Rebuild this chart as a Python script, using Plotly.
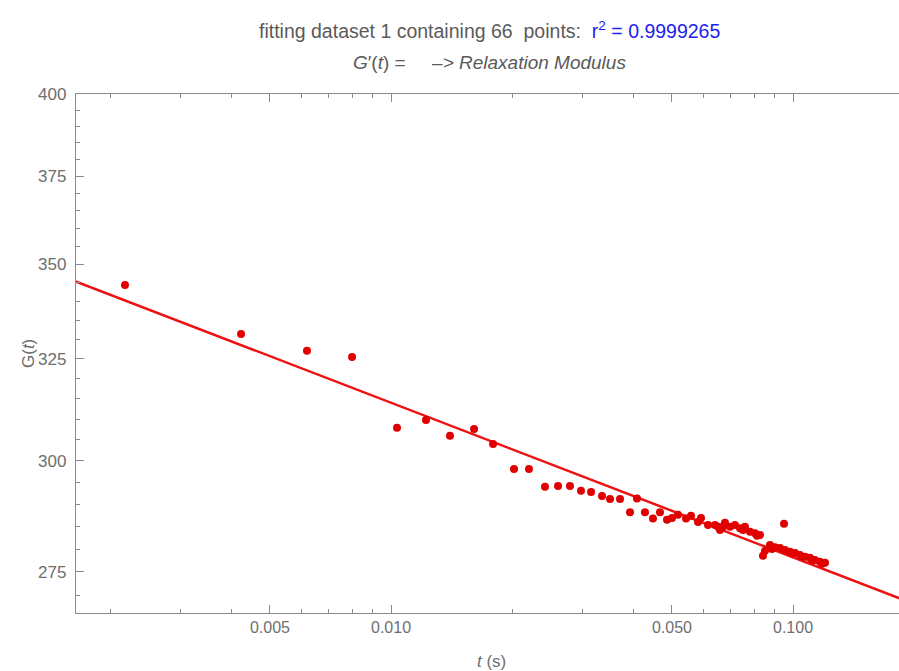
import plotly.graph_objects as go

# measured data (time in s, relaxation modulus)
t_data = [0.002179, 0.004236, 0.00618, 0.0080, 0.01035, 0.01222, 0.01402, 0.01609,
          0.01794, 0.02023, 0.02204, 0.02416, 0.02603, 0.02788, 0.02969, 0.03145,
          0.03349, 0.03506, 0.03713, 0.03931, 0.04092, 0.04283, 0.04484, 0.04668,
          0.04859, 0.0500, 0.05175, 0.05418, 0.05576, 0.05804, 0.05904, 0.06146,
          0.06397, 0.06508, 0.06583, 0.06697, 0.06773, 0.06970, 0.07172, 0.07381,
          0.07509, 0.07595, 0.07816, 0.08043, 0.08136, 0.08277, 0.08420, 0.08517,
          0.08764, 0.08866, 0.09020, 0.09283, 0.09498, 0.09553, 0.09829, 0.09943,
          0.1012, 0.1041, 0.1053, 0.1071, 0.1102, 0.1115, 0.1134, 0.1167, 0.1181, 0.1201]
G_data = [344.4, 331.4, 327.1, 325.5, 307.9, 309.8, 306.0, 307.6,
          304.0, 298.1, 298.1, 294.0, 294.2, 294.2, 293.1, 292.8,
          291.9, 291.2, 291.2, 288.2, 291.3, 288.2, 286.8, 288.2,
          286.5, 286.9, 287.6, 286.8, 287.4, 286.0, 286.9, 285.3,
          285.3, 284.9, 284.2, 284.9, 285.8, 284.9, 285.3, 284.6,
          284.2, 284.9, 283.8, 283.5, 282.9, 283.1, 278.5, 279.6,
          280.9, 280.0, 280.4, 280.2, 285.6, 279.8, 279.4, 279.0,
          279.1, 278.7, 278.3, 278.3, 278.1, 277.6, 277.6, 277.2, 276.8, 277.0]

# fitted power-law line (endpoints on log-log axes)
fit_t = [0.0015, 0.2]
fit_G = [347.0, 268.2]

x_major = [0.005, 0.01, 0.05, 0.1]
x_major_text = ["0.005", "0.010", "0.050", "0.100"]
x_minor = [0.002, 0.003, 0.004, 0.006, 0.007, 0.008, 0.009,
           0.02, 0.03, 0.04, 0.06, 0.07, 0.08, 0.09]
y_major = [275, 300, 325, 350, 375, 400]
y_minor = [270, 280, 285, 290, 295, 305, 310, 315, 320, 330, 335, 340, 345,
           355, 360, 365, 370, 380, 385, 390, 395]

FONT = "Liberation Sans Narrow, Liberation Sans, Arial, sans-serif"
AX = "#8a8a8a"
TXT = "#6e6e6e"

W, H = 899, 671
L, R, T, B = 76, 0, 94, 58
PW, PH = W - L - R, H - T - B


def px(xp):
    return (xp - L) / PW


def py(yp):
    return (H - B - yp) / PH


fig = go.Figure()
fig.add_trace(go.Scatter(x=fit_t, y=fit_G, mode="lines",
                         line=dict(color="#ee1111", width=2.5),
                         showlegend=False, hoverinfo="skip"))
fig.add_trace(go.Scatter(x=t_data, y=G_data, mode="markers",
                         marker=dict(color="#e00000", size=8),
                         showlegend=False))

fig.update_layout(
    width=W, height=H,
    margin=dict(l=L, r=R, t=T, b=B),
    paper_bgcolor="white", plot_bgcolor="white",
    font=dict(family=FONT, color=TXT, size=16),
    xaxis=dict(type="log", range=[-2.78358, -0.73632],
               showline=True, linecolor=AX, linewidth=1.4, mirror="ticks",
               showgrid=False, zeroline=False,
               ticks="inside", ticklen=8, tickcolor=AX, tickwidth=1.2,
               tickmode="array", tickvals=x_major, ticktext=x_major_text,
               tickfont=dict(size=16, color=TXT),
               minor=dict(tickmode="array", tickvals=x_minor, ticks="inside",
                          ticklen=4, tickcolor=AX, showgrid=False)),
    yaxis=dict(type="log", range=[2.42537, 2.60206],
               showline=True, linecolor=AX, linewidth=1.4, mirror=False,
               showgrid=False, zeroline=False,
               ticks="inside", ticklen=8, tickcolor=AX, tickwidth=1.2,
               ticklabelstandoff=5,
               tickmode="array", tickvals=y_major, ticktext=[str(v) for v in y_major],
               tickfont=dict(size=17, color=TXT),
               minor=dict(tickmode="array", tickvals=y_minor, ticks="inside",
                          ticklen=4, tickcolor=AX, showgrid=False)),
    annotations=[
        dict(text="fitting dataset 1 containing 66  points:  "
                  "<span style='color:#2222ee'>r<sup>2</sup> = 0.9999265</span>",
             x=px(489), y=py(30), xref="paper", yref="paper", showarrow=False,
             xanchor="center", yanchor="middle",
             font=dict(size=19.5, color="#5a5a5a", family=FONT)),
        dict(text="<i>G</i>′(<i>t</i>) =     <i>–> Relaxation Modulus</i>",
             x=px(489), y=py(63), xref="paper", yref="paper", showarrow=False,
             xanchor="center", yanchor="middle",
             font=dict(size=19, color="#5a5a5a", family=FONT)),
        dict(text="G(<i>t</i>)", textangle=-90,
             x=px(28), y=py(354), xref="paper", yref="paper", showarrow=False,
             xanchor="center", yanchor="middle",
             font=dict(size=17, color=TXT, family=FONT)),
        dict(text="<i>t</i> (s)",
             x=px(491), y=py(661), xref="paper", yref="paper", showarrow=False,
             xanchor="center", yanchor="middle",
             font=dict(size=17, color=TXT, family=FONT)),
    ],
)

fig.write_html("out.html", config={"displayModeBar": False},
               post_script="document.body.style.margin='0';")
